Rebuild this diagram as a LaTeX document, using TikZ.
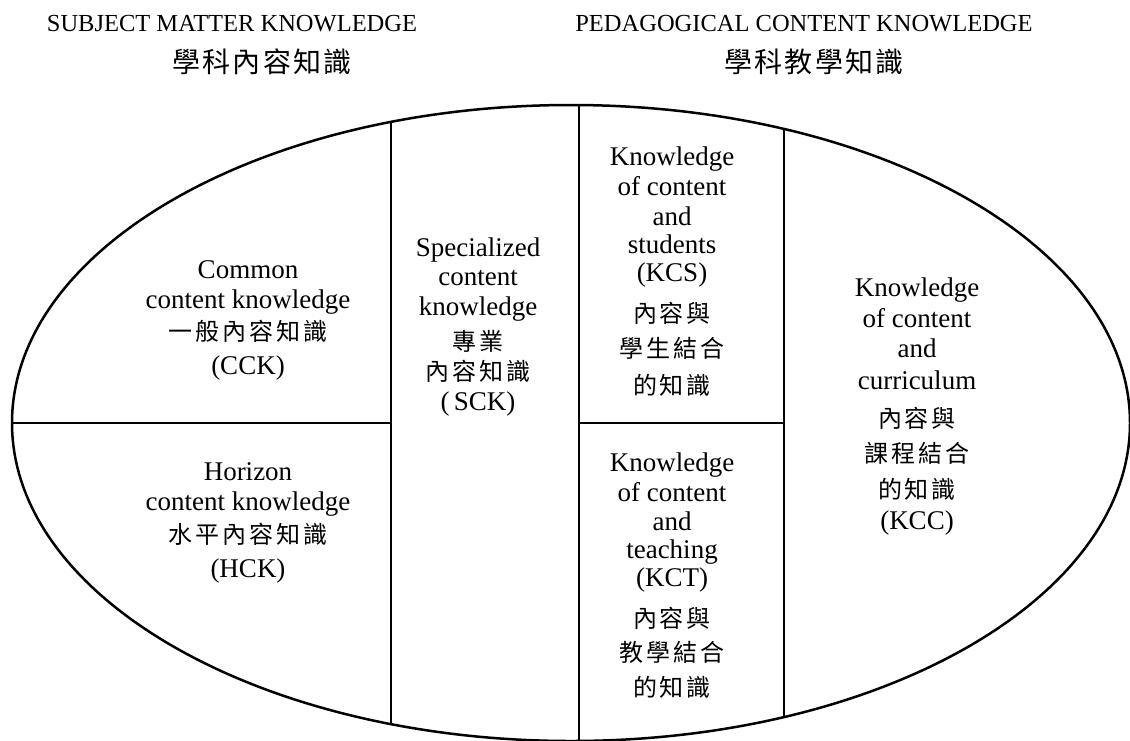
\documentclass[tikz,border=0pt]{standalone}
\usepackage{fontspec}
\setmainfont{Liberation Serif}
\newfontfamily\cjk[LetterSpace=12]{Noto Sans CJK TC}
\newfontfamily\cjkt[LetterSpace=8]{Noto Sans CJK TC}
\begin{document}
\begin{tikzpicture}[x=1pt,y=-1pt,
  en/.style={font=\fontsize{27}{30}\selectfont, inner sep=0pt, anchor=base},
  ch/.style={font=\fontsize{24}{26}\cjk, inner sep=0pt, anchor=base},
  ten/.style={font=\fontsize{24.5}{28}\selectfont, inner sep=0pt},
  tch/.style={font=\fontsize{28}{30}\cjkt, inner sep=0pt},
  frame/.style={line width=2.5pt},
  divider/.style={line width=2pt}]
\useasboundingbox (0,0) rectangle (1130,740);
% titles
\node[ten] (smk) at (232,24) {SUBJECT MATTER KNOWLEDGE};
\node[tch] (smkc) at (262,62) {學科內容知識};
\node[ten] (pck) at (804,24) {PEDAGOGICAL CONTENT KNOWLEDGE};
\node[tch] (pckc) at (814,62) {學科教學知識};
% ellipse and dividers
\draw[frame] (571,423) ellipse [x radius=559pt, y radius=318pt];
\draw[divider] (391,122) -- (391,724);
\draw[divider] (579,105) -- (579,741);
\draw[divider] (784,129) -- (784,717);
\draw[divider] (12,423) -- (391,423);
\draw[divider] (579,423) -- (784,423);
% CCK
\foreach \s/\t/\y [count=\i] in {en/Common/278, en/content knowledge/308, ch/一般內容知識/340, en/(CCK)/374}
  \node[\s] (cck\i) at (248,\y) {\t};
% HCK
\foreach \s/\t/\y [count=\i] in {en/Horizon/480, en/content knowledge/510, ch/水平內容知識/543, en/(HCK)/577}
  \node[\s] (hck\i) at (248,\y) {\t};
% SCK
\foreach \s/\t/\y [count=\i] in {en/Specialized/256, en/content/285, en/knowledge/315, ch/專業/350, ch/內容知識/380, en/(\,SCK)/410}
  \node[\s] (sck\i) at (478,\y) {\t};
% KCS
\foreach \s/\t/\y [count=\i] in {en/Knowledge/165, en/of content/195, en/and/225, en/students/253, en/(KCS)/281, ch/內容與/322, ch/學生結合/357, ch/的知識/394}
  \node[\s] (kcs\i) at (672,\y) {\t};
% KCT
\foreach \s/\t/\y [count=\i] in {en/Knowledge/471, en/of content/501, en/and/530, en/teaching/558, en/(KCT)/586, ch/內容與/627, ch/教學結合/661, ch/的知識/696}
  \node[\s] (kct\i) at (672,\y) {\t};
% KCC
\foreach \s/\t/\y [count=\i] in {en/Knowledge/296, en/of content/327, en/and/357, en/curriculum/389, ch/內容與/427, ch/課程結合/462, ch/的知識/498, en/(KCC)/529}
  \node[\s] (kcc\i) at (917,\y) {\t};
\end{tikzpicture}
\end{document}
